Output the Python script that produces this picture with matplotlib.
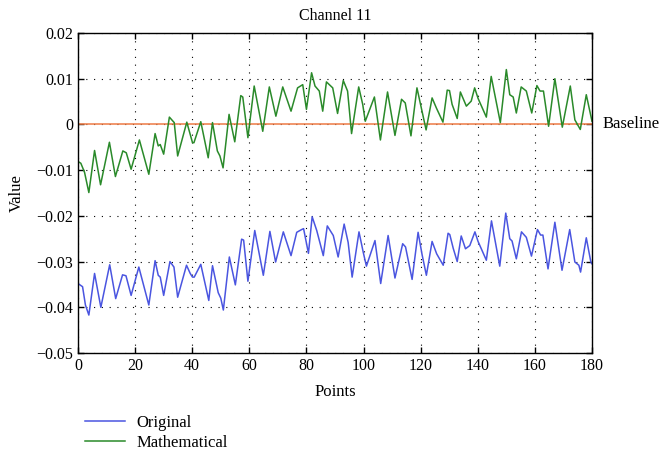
import matplotlib.pyplot as plt

# values (x in points, y in value units)
orig_x = [0, 1.6, 2.6, 3.8, 5.8, 8.0, 11.1, 13.2, 15.6, 16.8, 18.6, 21.3, 24.8, 27.0,
          28.1, 28.8, 30.0, 32.2, 33.6, 34.9, 38.0, 39.3, 40.1, 40.7, 43.0, 45.8, 47.1,
          49.1, 50.0, 50.9, 53.0, 55.1, 57.3, 58.0, 59.5, 61.9, 64.9, 67.2, 69.2, 71.9,
          74.6, 76.6, 78.3, 79.0, 80.7, 82.0, 83.6, 85.9, 87.3, 89.4, 91.1, 93.2, 94.6,
          96.0, 98.4, 99.9, 101.0, 104.0, 106.0, 108.6, 111.0, 113.7, 114.7, 117.0,
          119.1, 120.5, 122.0, 124.0, 125.6, 127.9, 129.6, 130.2, 131.4, 132.8, 134.2,
          135.7, 137.2, 139.0, 140.1, 143.0, 144.8, 147.7, 149.8, 151.2, 152.0, 153.5,
          155.3, 157.0, 158.8, 160.9, 162.0, 162.8, 164.6, 167.0, 169.5, 172.2, 174.0,
          175.4, 176.0, 178.0, 179.6, 180]
orig_y = [-0.0348, -0.0355, -0.0395, -0.0417, -0.0326, -0.0400, -0.0307, -0.0381,
          -0.0329, -0.0331, -0.0374, -0.0312, -0.0395, -0.0298, -0.0330, -0.0334,
          -0.0374, -0.0300, -0.0312, -0.0378, -0.0308, -0.0326, -0.0334, -0.0334,
          -0.0306, -0.0385, -0.0309, -0.0368, -0.0380, -0.0406, -0.0290, -0.0351,
          -0.0251, -0.0253, -0.0343, -0.0232, -0.0330, -0.0234, -0.0301, -0.0235,
          -0.0287, -0.0236, -0.0230, -0.0228, -0.0282, -0.0202, -0.0232, -0.0287,
          -0.0222, -0.0243, -0.0290, -0.0218, -0.0258, -0.0334, -0.0235, -0.0280,
          -0.0310, -0.0254, -0.0348, -0.0243, -0.0336, -0.0261, -0.0268, -0.0339,
          -0.0236, -0.0285, -0.0330, -0.0256, -0.0283, -0.0308, -0.0238, -0.0241,
          -0.0271, -0.0300, -0.0244, -0.0272, -0.0265, -0.0235, -0.0256, -0.0297,
          -0.0211, -0.0310, -0.0194, -0.0250, -0.0255, -0.0294, -0.0235, -0.0247,
          -0.0288, -0.0230, -0.0242, -0.0242, -0.0316, -0.0214, -0.0319, -0.0230,
          -0.0301, -0.0308, -0.0323, -0.0248, -0.0301, -0.0305]

math_x = [0, 1, 2.3, 3.8, 5.8, 7.9, 11, 13.1, 15.7, 16.9, 18.6, 21.5, 24.8, 27, 28.1,
          28.8, 30, 32, 33.7, 34.9, 38.1, 40.1, 40.6, 43, 45.6, 47.1, 48.8, 49.7, 50.8,
          52.9, 54.9, 57, 57.7, 59.5, 61.7, 64.7, 67, 69.3, 71.7, 74.6, 76.9, 78.7, 80,
          81.8, 83, 84.5, 85.7, 87, 89.2, 90.9, 92.9, 94.4, 95.8, 98.3, 99.7, 100.6,
          103.8, 105.9, 108.4, 111, 113.3, 114.6, 116.6, 118.7, 121.9, 124, 125.5, 127.8,
          129.3, 130.1, 131, 132.8, 133.9, 136, 137.7, 138.9, 140.1, 143, 144.7, 147.9,
          150, 151.2, 152.4, 153.5, 155.2, 157, 158.9, 160.7, 161.8, 163, 164.8, 167,
          169.6, 172.4, 174, 175.9, 178, 180]
math_y = [-0.0081, -0.0085, -0.0105, -0.0149, -0.0057, -0.0132, -0.0039, -0.0114,
          -0.0058, -0.0062, -0.0098, -0.0034, -0.0109, -0.0020, -0.0047, -0.0044,
          -0.0065, 0.0016, 0.0004, -0.0069, 0.0005, -0.0040, -0.0040, 0.0006, -0.0073,
          0.0004, -0.0058, -0.0069, -0.0095, 0.0022, -0.0038, 0.0063, 0.0060, -0.0029,
          0.0084, -0.0015, 0.0082, 0.0018, 0.0082, 0.0029, 0.0080, 0.0087, 0.0033,
          0.0113, 0.0084, 0.0073, 0.0029, 0.0093, 0.0080, 0.0024, 0.0096, 0.0073,
          -0.0020, 0.0082, 0.0044, 0.0007, 0.0060, -0.0034, 0.0071, -0.0024, 0.0055,
          0.0047, -0.0025, 0.0080, -0.0012, 0.0058, 0.0036, 0.0005, 0.0075, 0.0074,
          0.0044, 0.0013, 0.0071, 0.0040, 0.0051, 0.0080, 0.0057, 0.0016, 0.0105,
          0.0004, 0.0120, 0.0065, 0.0060, 0.0025, 0.0082, 0.0073, 0.0025, 0.0085,
          0.0073, 0.0073, -0.0004, 0.0100, -0.0006, 0.0084, 0.0010, -0.0011, 0.0065,
          0.0007]

baseline_x = [0, 180]
baseline_y = [0, 0]

xticks = [0, 20, 40, 60, 80, 100, 120, 140, 160, 180]
yticks = [-0.05, -0.04, -0.03, -0.02, -0.01, 0, 0.01, 0.02]
ytick_labels = ['\u22120.05', '\u22120.04', '\u22120.03', '\u22120.02', '\u22120.01', '0', '0.01', '0.02']

plt.rcParams['font.family'] = ['Liberation Serif', 'DejaVu Serif']
plt.rcParams['font.size'] = 11.5

fig = plt.figure(figsize=(6.68, 4.57), dpi=100)
ax = fig.add_axes([78 / 668, 1 - 353 / 457, 514 / 668, 320 / 457])

ax.plot(baseline_x, baseline_y, color='#ee7b45', lw=1.1)
l1, = ax.plot(orig_x, orig_y, color='#4a55e0', lw=1.1, solid_joinstyle='round')
l2, = ax.plot(math_x, math_y, color='#2a8a2a', lw=1.1, solid_joinstyle='round')

ax.set_xlim(0, 180)
ax.set_ylim(-0.05, 0.02)
ax.set_xticks(xticks)
ax.set_yticks(yticks)
ax.set_yticklabels(ytick_labels)
ax.tick_params(direction='in', length=4, top=True, right=True, width=1)
ax.grid(True, color='black', linestyle=(0, (1, 6)), linewidth=0.8)
for s in ax.spines.values():
    s.set_linewidth(1.0)

ax.set_title('Channel 11', fontsize=11.5, pad=9)
ax.set_xlabel('Points', fontsize=12, labelpad=7)
ax.set_ylabel('Value', fontsize=12, labelpad=8)
ax.text(1.02, 0, 'Baseline', transform=ax.get_yaxis_transform(), va='center', ha='left', fontsize=12)

fig.legend([l1, l2], ['Original', 'Mathematical'], loc='upper left',
           bbox_to_anchor=(70 / 668, 1 - 400 / 457), frameon=False, fontsize=12,
           handlelength=2.4, labelspacing=0.25, handletextpad=0.7)

fig.savefig('out.png', dpi=100)
